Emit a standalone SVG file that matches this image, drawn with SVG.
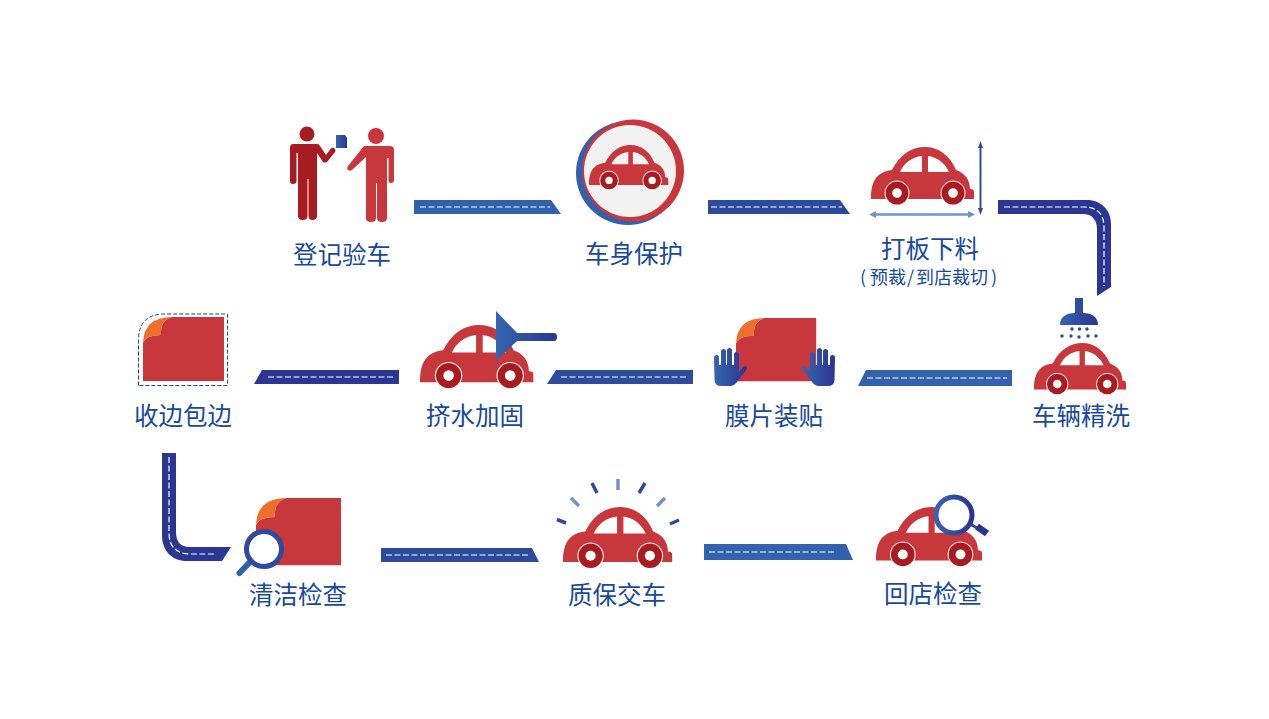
<svg xmlns="http://www.w3.org/2000/svg" xmlns:xlink="http://www.w3.org/1999/xlink" width="1269" height="719" viewBox="0 0 1269 719">
<style>
.lb{font-family:"Noto Sans CJK SC","Noto Sans",sans-serif;font-size:24.5px;fill:#174a9e;text-anchor:middle}
.sub{font-size:18px;text-anchor:start}
.dash{fill:none;stroke:#fff;stroke-width:1.200;stroke-dasharray:6 2.500}
.mid{fill:#2d4a9c}
.ray{fill:none;stroke-width:3.5}
.r1{stroke:#7390cc}.r2{stroke:#2e4a9e}
</style>
<defs>
<linearGradient id="bg"><stop offset="0" stop-color="#3565b0"/><stop offset="1" stop-color="#2a3590"/></linearGradient>
<linearGradient id="bgr"><stop offset="0" stop-color="#2a3590"/><stop offset="1" stop-color="#3565b0"/></linearGradient>
<linearGradient id="mg" gradientUnits="objectBoundingBox" x1="0" y1="0" x2="1" y2="0"><stop offset="0" stop-color="#3565b0"/><stop offset="1" stop-color="#2a3590"/></linearGradient>
<g id="car">
<path fill="#c8373c" fill-rule="evenodd" d="M0 52C0 38 3 25 21 23C29 7 41 0 54 0C67 0 79 8 85 23C94 26 99 33 99 42C102 42 103 43 103 45V52ZM29 25C33 16 41 10 51 9V25ZM57 9C66 10 74 16 78 25H57Z"/>
<path fill="#fff" d="M15 52A12.500 12.500 0 1 1 37 52ZM71 52A12.500 12.500 0 1 1 93 52Z"/>
<circle cx="26" cy="46" r="11.500" fill="#a81c21"/><circle cx="82" cy="46" r="11.500" fill="#a81c21"/>
<circle cx="26" cy="46" r="4.800" fill="#fff"/><circle cx="82" cy="46" r="4.800" fill="#fff"/>
</g>
<g id="sheet">
<path fill="#c8373c" d="M0 64V26Q3 18 18 18Q17 3 29 0H81V64Z"/>
<path fill="#ee6f2d" d="M0 26Q1 0 29 0Q17 3 18 18Q3 18 0 26Z"/>
</g>
<path id="hand" d="M714 358Q714 355 716.500 355Q719 355 719 358V365H721V351.500Q721 349 723.500 349Q726 349 726 351.500V365H727V350.500Q727 348 729.500 348Q732 348 732 350.500V365H734V354.500Q734 352 736.500 352Q739 352 739 354.500V372L743.500 366.500Q745 365.500 746.500 366.500Q747.500 368 746.500 369.500L737 382Q734 386 730 386H721Q715 386 714.500 380Z"/>
</defs>

<g id="connectors">
<path fill="#3161ab" d="M414 200H551L561 214H414Z"/><path class="dash" d="M420 207H550"/>
<path fill="#2c4a9b" d="M708 200H840L850 214H708Z"/><path class="dash" d="M711 207H842"/>
<path fill="#2a3692" d="M998 200H1087C1101 200 1111 210 1111 224V287L1097 296V229C1097 220 1092 214 1083 214H998Z"/><path class="dash" d="M1004 207H1084C1097 207 1104 214 1104 227V286"/>
<path fill="#3262ac" d="M866 370H1012V386H858Z"/><path class="dash" d="M867 378H1007"/>
<path fill="#2f4b9d" d="M556 370H693V384H547Z"/><path class="dash" d="M561 377H688"/>
<path fill="#2a3692" d="M262 370H399V384H254Z"/><path class="dash" d="M268 377H394"/>
<path fill="#2a3692" d="M162 453H176V532C176 541 180 547 190 547H231L222 561H187C172 561 162 551 162 535Z"/><path class="dash" d="M169 457V533C169 547 177 554 190 554H216"/>
<path fill="#2d4a9c" d="M381 548H532L539 562H381Z"/><path class="dash" d="M386 555H530"/>
<path fill="#3262ac" d="M704 544H846L853 560H704Z"/><path class="dash" d="M709 552H836"/>
</g>

<g id="node-register">
<circle cx="307" cy="134" r="7.500" fill="#a81c21"/>
<path fill="#a81c21" d="M293 144H317Q319 144 320 146L326 155L331 148.500Q333 147 335 149Q336 150.500 335 152L327 162Q325 163 323 162L317 153V216Q317 220 312.500 220Q308.500 220 308.500 216V179H307.500V216Q307.500 220 302.500 220Q298 220 298 216V153H296.500V181Q296.500 184 293 184Q290 184 290 181V148Q290 144 293 144Z"/>
<circle cx="376" cy="136" r="8" fill="#c8373c"/>
<path fill="#c8373c" d="M364 146H390Q394 146 394 150V180Q394 183 391 183Q388.500 183 388.500 180V158H387V218Q387 222 382 222Q377 222 377 218V183H376V218Q376 222 371 222Q366 222 366 218V157L352 170Q349 171.500 347.500 169.500Q346.500 167.500 348 166Z"/>
<path fill="url(#mg)" d="M336 135H345L347 138V148H336Z"/>
<text class="lb" x="342" y="264">登记验车</text>
</g>

<g id="node-protect">
<circle cx="628" cy="173" r="52" fill="#3161ab"/>
<circle cx="633" cy="170.500" r="51" fill="#c8373c"/>
<circle cx="630" cy="171" r="46" fill="#f2f2f2"/>
<use xlink:href="#car" transform="translate(589 145) scale(.77)"/>
<text class="lb" x="634" y="263">车身保护</text>
</g>

<g id="node-cut">
<use xlink:href="#car" transform="translate(871 147)"/>
<path d="M980.500 146V210" stroke="#2e4a9e" stroke-width="2" fill="none"/><path class="mid" d="M980.500 141L983 148H978ZM980.500 215L983 208H978Z"/>
<path d="M874 214.500H970" stroke="#7390cc" stroke-width="2.500" fill="none"/><path fill="#7390cc" d="M869 214.500L876 211V218ZM975 214.500L968 211V218Z"/>
<text class="lb" x="930" y="258">打板下料</text>
<text class="lb sub" x="860 870 888 907 916 934 952 970 991" y="284">(预裁/到店裁切)</text>
</g>

<g id="node-wash">
<path fill="url(#mg)" d="M1075 298H1083V313C1092 313 1098 317 1098 325H1060C1060 317 1066 313 1075 313Z"/>
<g class="mid"><circle cx="1072" cy="329" r="1.700"/><circle cx="1079.500" cy="329" r="1.700"/><circle cx="1087" cy="329" r="1.700"/><circle cx="1062" cy="336" r="1.700"/><circle cx="1071" cy="336" r="1.700"/><circle cx="1079" cy="337" r="1.700"/><circle cx="1088" cy="336" r="1.700"/><circle cx="1096" cy="336" r="1.700"/></g>
<use xlink:href="#car" transform="translate(1034 343) scale(.893)"/>
<text class="lb" x="1081" y="425">车辆精洗</text>
</g>

<g id="node-film">
<use xlink:href="#sheet" transform="translate(736 318) scale(.99)"/>
<use xlink:href="#hand" fill="url(#bg)"/>
<g transform="matrix(-1 0 0 1 1549 0)"><use xlink:href="#hand" fill="url(#bgr)"/></g>
<text class="lb" x="774" y="425">膜片装贴</text>
</g>

<g id="node-press">
<use xlink:href="#car" transform="translate(420 325) scale(1.100)"/>
<path fill="url(#mg)" d="M496 311L517 333H554Q557 333 557 337Q557 341 554 341H517L496 361Z"/>
<text class="lb" x="475" y="425">挤水加固</text>
</g>

<g id="node-edge">
<use xlink:href="#sheet" transform="translate(143 317)"/>
<path d="M138.500 385.500V340Q138.500 314 165 314H227.500V385.500Z" fill="none" stroke="#2b3f7e" stroke-width="1" stroke-dasharray="4 2"/>
<text class="lb" x="183" y="425">收边包边</text>
</g>

<g id="node-clean">
<use xlink:href="#sheet" transform="translate(256 498) scale(1.050)"/>
<path d="M250 562L239.500 573" stroke="#3161ab" stroke-width="6" stroke-linecap="round" fill="none"/>
<circle cx="264" cy="549" r="17.500" fill="#fff" stroke="#2d4a9c" stroke-width="5"/>
<text class="lb" x="298" y="604">清洁检查</text>
</g>

<g id="node-deliver">
<use xlink:href="#car" transform="translate(563 507) scale(1.060)"/>
<path class="ray r1" d="M618 479V490M571 498L579 506M665 498L657 506"/>
<path class="ray r2" d="M592 483L597 493M645 483L639 493M557 519.500L566 523M679 520L670 524"/>
<text class="lb" x="617" y="604">质保交车</text>
</g>

<g id="node-recheck">
<use xlink:href="#car" transform="translate(876 507) scale(1.030)"/>
<path d="M970 524L979 529" stroke="#2d4a9c" stroke-width="3" fill="none"/>
<path d="M977 526.500L987 533.500" stroke="#2a3590" stroke-width="7" fill="none"/>
<circle cx="954" cy="515" r="18" fill="#fff" stroke="url(#mg)" stroke-width="5"/>
<text class="lb" x="933" y="603">回店检查</text>
</g>
</svg>
